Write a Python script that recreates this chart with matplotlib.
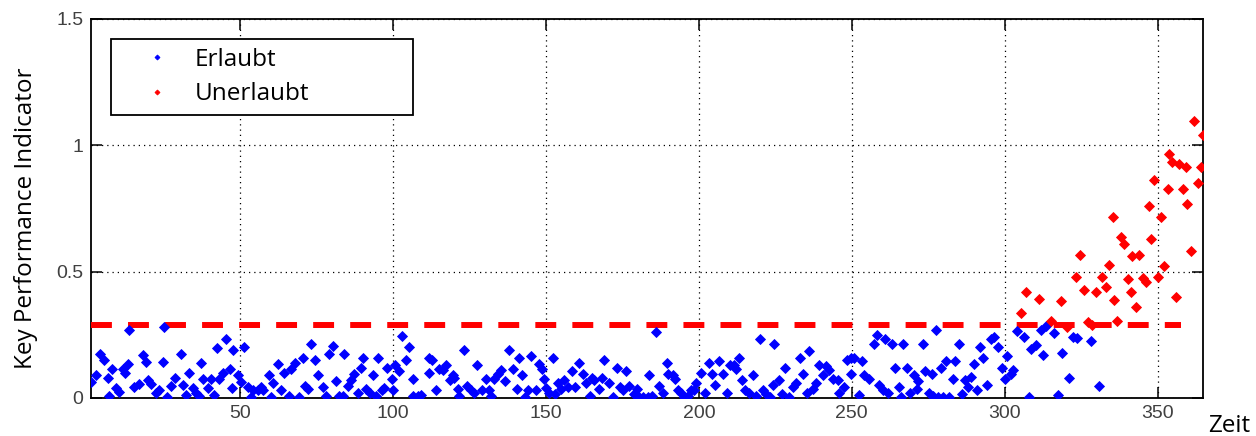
import matplotlib
matplotlib.use("Agg")
import matplotlib.pyplot as plt

# --- Data --------------------------------------------------------------------
# allowed points (blue), x = day, y = KPI
blue_day = [
    1.2, 2.8, 4.1, 5.5, 6.6, 7.0, 8.0, 9.4, 10.4, 11.5,
    12.4, 13.2, 13.7, 15.3, 17.0, 18.3, 19.2, 19.7, 20.8, 22.4,
    23.3, 24.6, 25.1, 26.0, 27.3, 28.7, 30.6, 31.2, 32.2, 33.3,
    34.4, 35.5, 36.6, 37.1, 37.9, 39.3, 40.4, 41.5, 42.3, 43.1,
    44.2, 45.3, 46.6, 47.3, 47.7, 49.1, 50.2, 51.3, 52.4, 53.5,
    54.1, 55.7, 56.8, 57.3, 59.3, 60.0, 60.8, 62.2, 63.3, 64.4,
    66.0, 66.6, 68.0, 69.1, 70.4, 71.3, 72.0, 73.1, 74.5, 75.3,
    76.9, 78.0, 78.9, 80.2, 81.3, 82.4, 83.5, 84.0, 85.1, 86.2,
    87.3, 88.4, 89.5, 90.2, 91.1, 92.4, 93.5, 94.4, 94.9, 96.3,
    97.1, 98.0, 99.6, 100.0, 100.7, 102.0, 102.9, 104.2, 105.3, 106.4,
    106.6, 108.0, 109.1, 111.6, 111.8, 112.7, 114.0, 115.1, 116.2, 117.3,
    118.6, 119.5, 120.0, 121.1, 121.4, 123.3, 124.0, 125.4, 126.5, 127.4,
    129.0, 130.3, 131.2, 132.0, 133.1, 134.2, 135.3, 136.7, 137.8, 139.1,
    140.4, 141.2, 142.1, 143.2, 144.0, 145.1, 146.7, 147.8, 148.7, 149.4,
    150.0, 150.8, 152.4, 152.8, 153.8, 154.9, 155.9, 157.1, 158.5, 159.5,
    160.9, 162.0, 163.0, 164.4, 165.0, 165.8, 167.2, 168.3, 169.0, 170.5,
    171.8, 173.1, 174.2, 175.0, 176.1, 177.2, 178.8, 179.6, 180.5, 181.6,
    183.2, 183.8, 184.6, 185.9, 187.0, 188.3, 189.5, 189.8, 191.4, 192.3,
    193.0, 194.1, 195.2, 196.3, 197.4, 198.5, 199.2, 200.7, 202.1, 203.2,
    204.2, 205.3, 206.4, 207.9, 209.1, 210.1, 211.5, 212.1, 213.0, 214.1,
    215.1, 216.3, 217.6, 218.6, 219.9, 221.0, 221.9, 223.2, 224.1, 224.6,
    226.1, 227.1, 228.2, 229.5, 230.8, 231.7, 233.0, 233.9, 235.2, 235.9,
    237.2, 238.3, 239.3, 240.5, 241.5, 242.6, 243.7, 245.4, 245.9, 247.5,
    248.3, 249.7, 249.7, 250.8, 252.2, 253.3, 254.0, 255.5, 257.3, 258.4,
    259.0, 260.1, 260.9, 262.0, 263.1, 264.2, 265.3, 266.1, 266.8, 267.9,
    269.0, 270.4, 271.2, 271.8, 273.2, 274.0, 275.1, 276.2, 276.6, 277.5,
    278.1, 279.1, 279.9, 280.8, 281.9, 283.0, 283.8, 285.1, 286.2, 287.1,
    287.9, 288.9, 290.0, 291.1, 291.9, 292.8, 294.1, 295.5, 296.6, 297.7,
    299.1, 300.2, 300.9, 302.0, 302.8, 303.9, 306.4, 307.8, 308.6, 310.2,
    311.9, 312.7, 313.5, 316.0, 317.3, 318.9, 321.1, 322.2, 323.6, 328.2,
    330.9,
]
blue_kpi = [
    .065, .09, .176, .15, .08, .008, .115, .04, .025, .115,
    .10, .135, .27, .044, .055, .17, .144, .07, .055, .02,
    .03, .144, .28, .005, .048, .08, .176, .05, .01, .10,
    .04, .02, .008, .14, .074, .04, .074, .01, .197, .074,
    .10, .233, .114, .04, .19, .09, .065, .20, .044, .005,
    .03, .03, .044, .03, .09, .005, .06, .135, .03, .10,
    .008, .115, .14, .005, .158, .048, .036, .215, .15, .09,
    .044, .008, .176, .205, .066, .008, .008, .176, .048, .07,
    .094, .02, .12, .16, .035, .02, .09, .008, .158, .03,
    .04, .12, .075, .03, .13, .105, .246, .15, .20, .008,
    .075, .008, .01, .10, .16, .15, .03, .115, .11, .13,
    .07, .09, .08, .036, .008, .19, .048, .03, .02, .13,
    .03, .075, .03, .008, .075, .094, .11, .066, .19, .115,
    .036, .158, .09, .005, .03, .165, .03, .135, .115, .075,
    .04, .02, .158, .015, .06, .036, .07, .044, .105, .044,
    .14, .095, .06, .008, .08, .07, .036, .08, .15, .06,
    .005, .12, .044, .03, .105, .048, .015, .036, .005, .005,
    .005, .09, .008, .26, .048, .02, .14, .094, .09, .075,
    .03, .02, .005, .008, .03, .03, .06, .10, .02, .14,
    .094, .05, .145, .095, .02, .13, .13, .115, .16, .07,
    .03, .02, .09, .008, .233, .03, .015, .005, .05, .215,
    .07, .015, .12, .005, .044, .06, .16, .094, .02, .185,
    .036, .06, .13, .09, .125, .11, .075, .07, .02, .044,
    .15, .095, .16, .16, .01, .145, .09, .075, .212, .25,
    .05, .03, .233, .02, .215, .12, .044, .005, .215, .12,
    .02, .09, .036, .066, .215, .105, .02, .094, .008, .27,
    .005, .12, .005, .145, .005, .075, .145, .215, .015, .07,
    .044, .085, .135, .03, .20, .16, .05, .233, .24, .20,
    .12, .075, .165, .095, .11, .265, .24, .005, .195, .21,
    .27, .17, .285, .258, .012, .177, .078, .24, .236, .227,
    .047,
]

# not-allowed points (red)
red_day = [
    305.3, 306.9, 311.3, 315.1, 318.4, 320.3, 323.3, 324.7, 326.0, 327.3,
    328.7, 329.8, 332.0, 333.1, 334.2, 335.3, 335.8, 336.9, 338.0, 339.1,
    340.2, 341.3, 341.8, 342.9, 344.0, 345.1, 346.2, 347.3, 347.8, 348.9,
    350.0, 351.3, 352.2, 353.3, 353.8, 354.9, 356.0, 357.1, 358.2, 359.3,
    359.8, 360.9, 361.8, 363.1, 364.2, 365.0,
]
red_kpi = [
    .338, .42, .393, .306, .383, .282, .478, .566, .427, .302,
    .289, .42, .478, .438, .527, .717, .388, .306, .636, .609,
    .47, .42, .56, .361, .566, .474, .46, .76, .628, .863,
    .478, .717, .522, .826, .966, .935, .401, .926, .826, .913,
    .768, .583, 1.097, .852, .913, 1.041,
]

threshold = 0.288
threshold_span = [1, 357.6]

x_ticks = [50, 100, 150, 200, 250, 300, 350]
y_ticks = [0, 0.5, 1, 1.5]
y_tick_labels = ["0", "0.5", "1", "1.5"]

BLUE = "#0000ff"
RED = "#ff0000"
TEXT_FONT = ["Open Sans", "DejaVu Sans"]
TICK_FONT = ["Liberation Sans", "DejaVu Sans"]

fig = plt.figure(figsize=(12.56, 4.36), dpi=100)
ax = fig.add_axes([0.0721, 0.0872, 0.886, 0.8693])

ax.plot(threshold_span, [threshold, threshold], color=RED, lw=4.3,
        dashes=(3.5, 2.7), solid_capstyle="butt", dash_capstyle="butt",
        zorder=3)
ax.plot(blue_day, blue_kpi, ls="none", marker="D", ms=4.6, mew=0.6,
        color=BLUE, mec=BLUE, label="Erlaubt", zorder=4)
ax.plot(red_day, red_kpi, ls="none", marker="D", ms=4.6, mew=0.6,
        color=RED, mec=RED, label="Unerlaubt", zorder=4)

ax.set_xlim(1, 365)
ax.set_ylim(0, 1.5)
ax.set_xticks(x_ticks)
ax.set_yticks(y_ticks)
ax.set_yticklabels(y_tick_labels)
ax.grid(True, color="black", lw=0.9, dashes=(1, 3.2))
ax.tick_params(direction="in", length=8, width=1.1, top=True, right=True,
               labelsize=14, labelcolor="#404040", pad=5)
for lab in ax.get_xticklabels() + ax.get_yticklabels():
    lab.set_family(TICK_FONT)
for sp in ax.spines.values():
    sp.set_linewidth(1.3)
    sp.set_color("black")

leg = ax.legend(loc="upper left", bbox_to_anchor=(0.0184, 0.751, 0.2717, 0.195),
                mode="expand", borderaxespad=0, fancybox=False, framealpha=1,
                edgecolor="black", markerscale=0.55, handlelength=3.1,
                handletextpad=0.0, borderpad=0.35, labelspacing=0.42,
                prop={"family": TEXT_FONT, "size": 17.5})
leg.get_frame().set_linewidth(1.3)
leg.set_zorder(10)

fig.text(0.021, 0.5, "Key Performance Indicator", rotation=90,
         ha="center", va="center", family=TEXT_FONT, fontsize=17.5)
fig.text(0.9618, 0.0099, "Zeit", ha="left", va="baseline",
         family=TEXT_FONT, fontsize=17.5)

fig.savefig("out.png", dpi=100)
